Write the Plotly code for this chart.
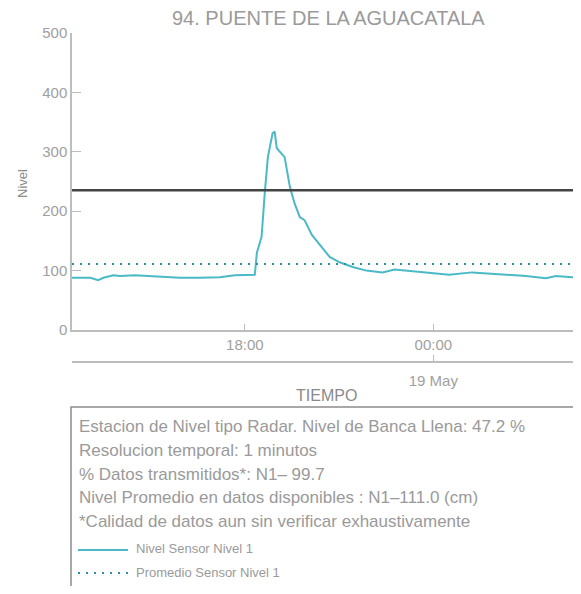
import plotly.graph_objects as go

# ---------------- data ----------------
times = [
    "2021-05-18 12:30", "2021-05-18 12:46", "2021-05-18 13:05", "2021-05-18 13:20",
    "2021-05-18 13:30", "2021-05-18 13:49", "2021-05-18 14:02", "2021-05-18 14:30",
    "2021-05-18 14:59", "2021-05-18 15:28", "2021-05-18 15:56", "2021-05-18 16:34",
    "2021-05-18 17:12", "2021-05-18 17:41", "2021-05-18 18:19", "2021-05-18 18:23",
    "2021-05-18 18:32", "2021-05-18 18:38", "2021-05-18 18:44", "2021-05-18 18:53",
    "2021-05-18 18:57", "2021-05-18 19:01", "2021-05-18 19:10", "2021-05-18 19:16",
    "2021-05-18 19:26", "2021-05-18 19:35", "2021-05-18 19:45", "2021-05-18 19:54",
    "2021-05-18 20:08", "2021-05-18 20:23", "2021-05-18 20:42", "2021-05-18 21:01",
    "2021-05-18 21:26", "2021-05-18 21:52", "2021-05-18 22:23", "2021-05-18 22:46",
    "2021-05-18 23:39", "2021-05-19 00:30", "2021-05-19 01:14", "2021-05-19 02:06",
    "2021-05-19 02:57", "2021-05-19 03:35", "2021-05-19 03:54", "2021-05-19 04:25",
    "2021-05-19 04:38",
]
nivel = [
    88, 88, 88, 84,
    88, 92, 91, 92,
    91, 89, 88, 88,
    89, 92, 93, 130,
    157, 230, 291, 331,
    334, 306, 298, 291,
    241, 213, 190, 185,
    160, 143, 123, 114,
    106, 100, 97, 102,
    97, 93, 97, 94,
    91, 87, 91, 89,
    88,
]
promedio = 111.0
banca_llena = 235.2

x_range = ["2021-05-18 12:30", "2021-05-19 04:40"]
time_tickvals = ["2021-05-18 18:00", "2021-05-19 00:00"]
time_ticktext = ["18:00", "00:00"]
date_tickvals = ["2021-05-19 00:00"]
date_ticktext = ["19 May"]
y_tickvals = [0, 100, 200, 300, 400, 500]

title = "94. PUENTE DE LA AGUACATALA"
info_lines = [
    "Estacion de Nivel tipo Radar. Nivel de Banca Llena: 47.2 %",
    "Resolucion temporal: 1 minutos",
    "% Datos transmitidos*: N1\u2013 99.7",
    "Nivel Promedio en datos disponibles : N1\u2013111.0 (cm)",
    "*Calidad de datos aun sin verificar exhaustivamente",
]
legend_names = ["Nivel Sensor Nivel 1", "Promedio Sensor Nivel 1"]

# ---------------- layout geometry ----------------
# page body has an 8px margin, so the figure is drawn 8px in from the top-left;
# keep the page from overflowing so no scrollbar appears
OFF = 8
W, H = 581 - OFF, 594 - 2 * OFF
plot_left, plot_right, plot_top, plot_bottom, date_line = 72, 580, 33, 330, 362
L = plot_left - OFF
R = W - (plot_right - OFF)
T = plot_top - OFF
B = H - (date_line - OFF)
PW = W - L - R
PH = H - T - B


def px2x(px):
    return (px - OFF - L) / PW


def px2y(py):
    return (T + PH - (py - OFF)) / PH


FONT = "Liberation Sans, Arial, sans-serif"
GRAY_TXT = "#9a9a9a"
AXIS_COL = "#bdbdbd"
TEAL = "#4bb9c6"
TEAL_DARK = "#2e8ea8"

fig = go.Figure()
fig.add_trace(go.Scatter(
    x=times, y=nivel, mode="lines", name=legend_names[0],
    line=dict(color=TEAL, width=2), showlegend=False,
))
fig.add_trace(go.Scatter(
    x=x_range, y=[promedio, promedio], mode="lines", name=legend_names[1],
    line=dict(color=TEAL_DARK, width=2, dash="2px,6px"), showlegend=False,
))
fig.add_trace(go.Scatter(
    x=x_range, y=[banca_llena, banca_llena], mode="lines", name="Banca llena",
    line=dict(color="#444444", width=2.5), showlegend=False,
))
# empty carrier for the date axis
fig.add_trace(go.Scatter(x=[], y=[], xaxis="x2", showlegend=False))

ydom0 = px2y(plot_bottom)

fig.update_layout(
    width=W, height=H,
    margin=dict(l=L, r=R, t=T, b=B),
    paper_bgcolor="white", plot_bgcolor="white",
    font=dict(family=FONT, color=GRAY_TXT, size=15),
    xaxis=dict(
        type="date", range=x_range, tickvals=time_tickvals, ticktext=time_ticktext,
        showgrid=False, zeroline=False, showline=True, linecolor=AXIS_COL, linewidth=1.5,
        ticks="inside", ticklen=6, tickcolor=AXIS_COL, tickwidth=1,
        tickfont=dict(size=15, color="#a0a0a0"), anchor="y",
    ),
    xaxis2=dict(
        type="date", range=x_range, tickvals=date_tickvals, ticktext=date_ticktext,
        overlaying="x", anchor="free", position=0, side="bottom",
        showgrid=False, zeroline=False, showline=True, linecolor=AXIS_COL, linewidth=1.5,
        ticks="inside", ticklen=6, tickcolor=AXIS_COL, tickwidth=1,
        tickfont=dict(size=15, color="#a0a0a0"), ticklabelstandoff=5,
    ),
    yaxis=dict(
        domain=[ydom0, 1], range=[0, 500], tickvals=y_tickvals,
        showgrid=False, zeroline=False, showline=True, linecolor=AXIS_COL, linewidth=1.5,
        ticks="inside", ticklen=9, tickcolor=AXIS_COL, tickwidth=1,
        tickfont=dict(size=15, color="#a0a0a0"),
    ),
)

annotations = [
    dict(text=title, x=px2x(328), y=px2y(18), xref="paper", yref="paper",
         showarrow=False, font=dict(size=20, color=GRAY_TXT), xanchor="center", yanchor="middle"),
    dict(text="TIEMPO", x=px2x(326), y=px2y(395), xref="paper", yref="paper",
         showarrow=False, font=dict(size=16, color="#8a8a8a"), xanchor="center", yanchor="middle"),
    dict(text="Nivel", x=px2x(22), y=px2y(184), xref="paper", yref="paper", textangle=-90,
         showarrow=False, font=dict(size=13, color="#8a8a8a"), xanchor="center", yanchor="middle"),
]
line_ys = [426, 450, 474, 497, 521]
for txt, yy in zip(info_lines, line_ys):
    annotations.append(dict(text=txt, x=px2x(77), y=px2y(yy), xref="paper", yref="paper",
                            showarrow=False, xanchor="left", yanchor="middle",
                            font=dict(size=17, color=GRAY_TXT)))
leg_ys = [548, 572]
for txt, yy in zip(legend_names, leg_ys):
    annotations.append(dict(text=txt, x=px2x(134), y=px2y(yy), xref="paper", yref="paper",
                            showarrow=False, xanchor="left", yanchor="middle",
                            font=dict(size=13, color=GRAY_TXT)))
fig.update_layout(annotations=annotations)

shapes = [
    dict(type="rect", xref="paper", yref="paper",
         x0=px2x(71), x1=px2x(640), y0=px2y(407), y1=px2y(640),
         line=dict(color="#8c8c8c", width=1.5), fillcolor="rgba(0,0,0,0)", layer="below"),
    dict(type="line", xref="paper", yref="paper",
         x0=px2x(78), x1=px2x(128), y0=px2y(550), y1=px2y(550),
         line=dict(color=TEAL, width=2)),
    dict(type="line", xref="paper", yref="paper",
         x0=px2x(78), x1=px2x(128), y0=px2y(573), y1=px2y(573),
         line=dict(color=TEAL_DARK, width=2, dash="2px,6px")),
]
fig.update_layout(shapes=shapes)

fig.write_html("out.html")
